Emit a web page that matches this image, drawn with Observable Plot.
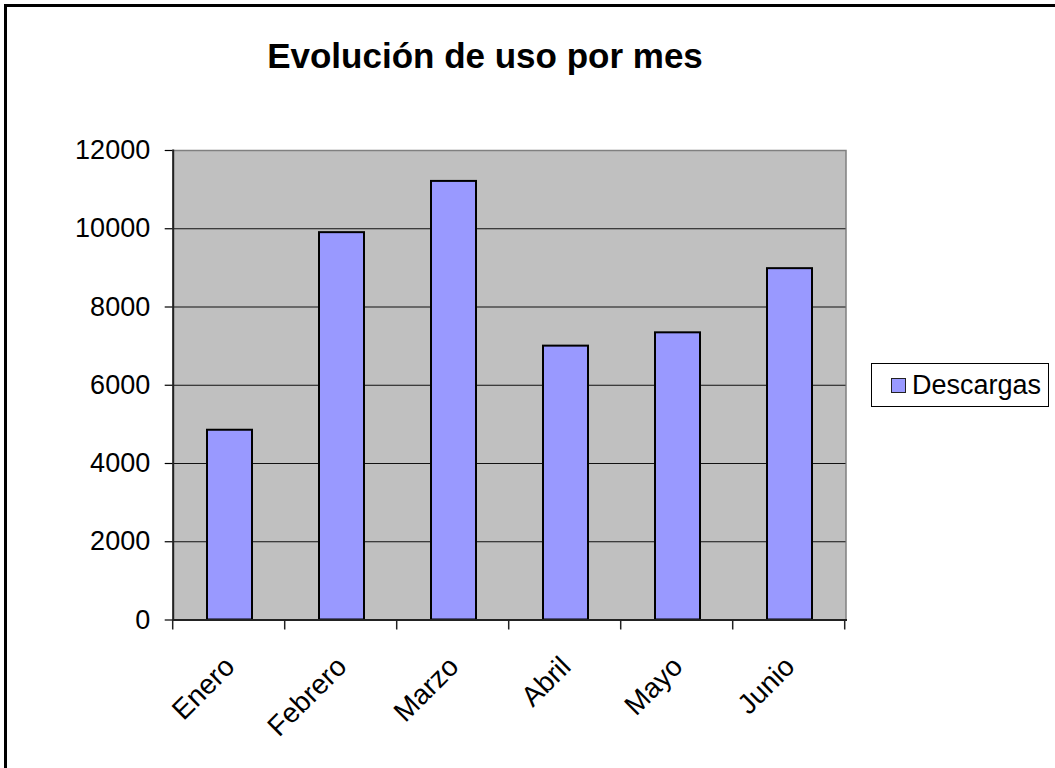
<!DOCTYPE html>
<html>
<head>
<meta charset="utf-8">
<script src="https://cdn.jsdelivr.net/npm/d3@7"></script>
<script src="https://cdn.jsdelivr.net/npm/@observablehq/plot@0.6"></script>
<style>
  html, body { margin: 0; padding: 0; background: #fff; }
  #wrap { position: relative; width: 1055px; height: 768px; overflow: hidden; font-family: "Liberation Sans", Arial, sans-serif; }
  #frame { position: absolute; left: 4px; top: 4px; width: 1100px; height: 800px; border-left: 3px solid #000; border-top: 3px solid #000; box-sizing: border-box; pointer-events: none; }
  #title { position: absolute; left: 485px; top: 36px; transform: translateX(-50%); font-size: 35px; font-weight: bold; white-space: nowrap; color: #000; }
  #legend { position: absolute; left: 871px; top: 363px; width: 178px; height: 44px; box-sizing: border-box; border: 1.5px solid #000; background: #fff; }
  .sw { position: absolute; left: 19px; top: 14px; width: 15px; height: 15px; box-sizing: border-box; border: 1.5px solid #222; background: #9999FF; }
  .lt { position: absolute; left: 40px; top: 5px; font-size: 27px; line-height: 32px; color: #000; white-space: nowrap; }
  svg { position: absolute; left: 0; top: 0; }
</style>
</head>
<body>
<div id="wrap">
  <div id="chart"></div>
  <div id="title"></div>
  <div id="legend"></div>
  <div id="frame"></div>
</div>
<script>
const titleText = "Evolución de uso por mes";
const months = ["Enero", "Febrero", "Marzo", "Abril", "Mayo", "Junio"];
const descargas = [4850, 9900, 11210, 7000, 7340, 8980];
const seriesName = "Descargas";
const yTicks = [0, 2000, 4000, 6000, 8000, 10000, 12000];
const gridTicks = [2000, 4000, 6000, 8000, 10000];

const data = months.map((m, i) => ({month: m, value: descargas[i]}));

const chart = Plot.plot({
  width: 1055,
  height: 768,
  marginTop: 150,
  marginRight: 209.5,
  marginBottom: 148.5,
  marginLeft: 172.7,
  style: {fontFamily: "Liberation Sans, Arial, sans-serif", background: "transparent", overflow: "visible"},
  x: {domain: months, paddingInner: 0.6, paddingOuter: 0.3, axis: null},
  y: {domain: [0, 12000], axis: null},
  marks: [
    Plot.frame({fill: "#C0C0C0", stroke: "#808080", strokeWidth: 1.5}),
    Plot.gridY(gridTicks, {stroke: "#111", strokeOpacity: 1, strokeWidth: 1.2}),
    Plot.barY(data, {x: "month", y: "value", fill: "#9999FF", stroke: "#000", strokeWidth: 2}),
    Plot.axisY(yTicks, {tickSize: 8, tickPadding: 15, fontSize: 27, color: "#000", strokeWidth: 1.2, label: null, line: false, tickFormat: d => String(d)}),
    Plot.frame({anchor: "left", stroke: "#222", strokeWidth: 2}),
    Plot.frame({anchor: "bottom", stroke: "#222", strokeWidth: 2}),
    Plot.text(months, {x: d => d, frameAnchor: "bottom", dy: 42, rotate: -45, textAnchor: "end", lineAnchor: "middle", fontSize: 28, fill: "#000"})
  ]
});
document.getElementById("chart").appendChild(chart);

// category boundary ticks on the x axis, from the chart's own scales
const xs = chart.scale("x");
const ys = chart.scale("y");
const y0 = ys.apply(0);
const bounds = d3.range(months.length + 1).map(i => xs.range[0] + i * xs.step);
d3.select(chart).append("g")
  .selectAll("line").data(bounds).join("line")
  .attr("x1", d => d).attr("x2", d => d)
  .attr("y1", y0).attr("y2", y0 + 10)
  .attr("stroke", "#222").attr("stroke-width", 1.5);

document.getElementById("title").textContent = titleText;
const lg = document.getElementById("legend");
lg.innerHTML = `<div class="sw"></div><div class="lt"></div>`;
lg.querySelector(".lt").textContent = seriesName;
</script>
</body>
</html>
